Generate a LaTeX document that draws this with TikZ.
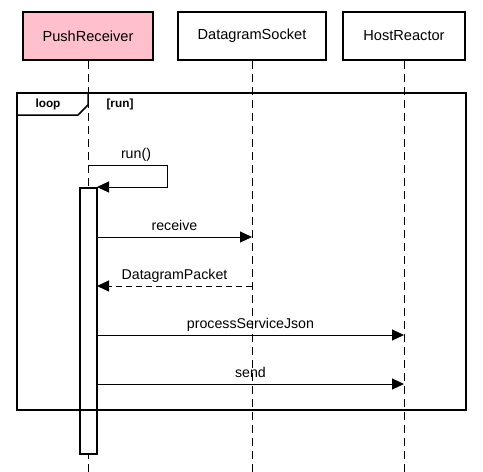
\documentclass[tikz,border=0pt]{standalone}
\usepackage{fontspec}
\setmainfont{Liberation Sans}
\usetikzlibrary{arrows.meta}
\definecolor{pinkfill}{HTML}{FFC0CB}
\tikzset{
  actor/.style={draw=black, line width=2pt, minimum height=48pt, inner sep=0pt, font=\fontsize{14.6}{16}\selectfont},
  lifeline/.style={draw=black, line width=1pt, dash pattern=on 8pt off 5pt},
  actbar/.style={draw=black, line width=1.2pt, fill=white, minimum width=17pt, minimum height=266pt, inner sep=0pt},
  frame/.style={draw=black, line width=2pt, minimum width=449pt, minimum height=317pt, inner sep=0pt},
  msg/.style={draw=black, line width=1pt, -{Triangle[length=12pt,width=11pt]}},
  ret/.style={msg, dash pattern=on 6pt off 4pt},
  msglabel/.style={anchor=base, font=\fontsize{14.2}{16}\selectfont},
  framelabel/.style={font=\bfseries\fontsize{11.8}{13}\selectfont}
}
\begin{document}
\begin{tikzpicture}[x=1pt,y=-1pt]
\useasboundingbox (0,0) rectangle (483,472);
% actors
\node[actor, fill=pinkfill, minimum width=130pt] (pr) at (88,36) {PushReceiver};
\node[actor, fill=white, minimum width=148pt] (ds) at (252,36) {DatagramSocket};
\node[actor, fill=white, minimum width=122pt] (hr) at (404,36) {HostReactor};
% lifeline ends
\coordinate (prEnd) at (88,472);
\coordinate (dsEnd) at (252,472);
\coordinate (hrEnd) at (404,472);
\draw[lifeline] (pr.south) -- (prEnd);
\draw[lifeline] (ds.south) -- (dsEnd);
\draw[lifeline] (hr.south) -- (hrEnd);
% activation bar
\node[actbar] (bar) at (88.5,321) {};
% loop frame
\node[frame] (loop) at (241.5,251.5) {};
\coordinate (tabA) at (17,115);
\coordinate (tabB) at (78,115);
\coordinate (tabC) at (88,105);
\coordinate (tabD) at (88,93);
\draw[line width=1.5pt] (tabA) -- (tabB) -- (tabC) -- (tabD);
\node[framelabel] (looplbl) at (48,104) {loop};
\node[framelabel] (guard) at (120,104) {[run]};
% self message run()
\coordinate (s1) at (88,165);
\coordinate (s2) at (167,165);
\coordinate (s3) at (167,187);
\coordinate (s4) at (97,187);
\draw[msg] (s1) -- (s2) -- (s3) -- (s4);
\node[msglabel] (runlbl) at (136,158) {run()};
% messages
\coordinate (m1a) at (97,237);
\coordinate (m1b) at (252,237);
\draw[msg] (m1a) -- (m1b);
\node[msglabel] (m1l) at (174.5,230) {receive};
\coordinate (m2a) at (252,286);
\coordinate (m2b) at (97,286);
\draw[ret] (m2a) -- (m2b);
\node[msglabel] (m2l) at (174.5,279) {DatagramPacket};
\coordinate (m3a) at (97,335);
\coordinate (m3b) at (404,335);
\draw[msg] (m3a) -- (m3b);
\node[msglabel] (m3l) at (250.5,328) {processServiceJson};
\coordinate (m4a) at (97,384);
\coordinate (m4b) at (404,384);
\draw[msg] (m4a) -- (m4b);
\node[msglabel] (m4l) at (250.5,377) {send};
\end{tikzpicture}
\end{document}
